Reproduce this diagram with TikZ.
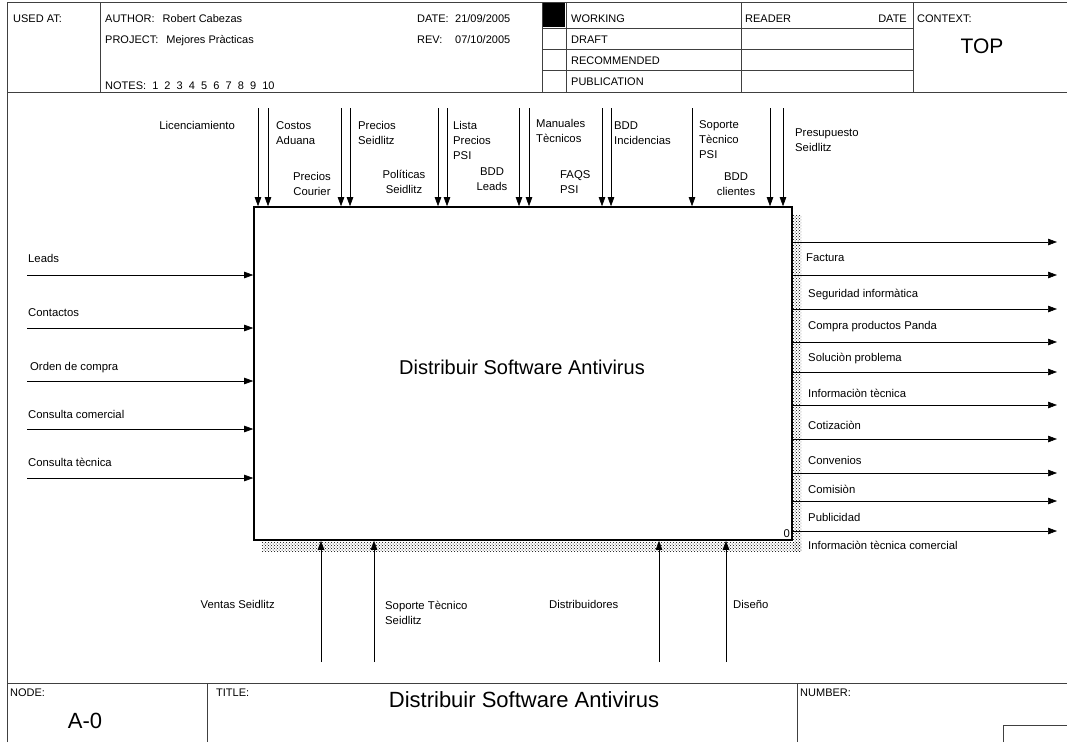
\documentclass[tikz,border=0pt]{standalone}
\usepackage{fontspec}
\setmainfont{Liberation Sans}
\usetikzlibrary{calc, positioning}
\usetikzlibrary{arrows.meta}
\usetikzlibrary{patterns}

\tikzset{
  frame/.style={line width=0.9pt, black!75},
  flow/.style={line width=0.6pt, -{Triangle[length=9pt,width=6.5pt]}},
  lbl/.style={inner sep=0pt, font=\fontsize{11.3}{15}\selectfont},
  hdr/.style={inner sep=0pt, font=\fontsize{11}{13}\selectfont, anchor=base west},
  hatch/.style={pattern=crosshatch dots, pattern color=black},
}

\begin{document}
\begin{tikzpicture}[x=1pt, y=-1pt]
\useasboundingbox (0,0) rectangle (1067,742);

% form
\draw[frame] (7,742) -- (7,2) -- (1067,2);
\draw[frame] (7,92) -- (1067,92);
\draw[frame] (7,683) -- (1067,683);
\draw[frame] (100,2) -- (100,92);
\draw[frame] (542,2) -- (542,92);
\draw[frame] (566,2) -- (566,92);
\draw[frame] (741,2) -- (741,92);
\draw[frame] (913,2) -- (913,92);
\draw[frame] (542,28) -- (913,28);
\draw[frame] (542,49) -- (913,49);
\draw[frame] (542,70) -- (913,70);
\fill (543,3) rectangle (565,27);
\draw[frame] (207,683) -- (207,742);
\draw[frame] (797,683) -- (797,742);
\draw[frame] (1003,742) -- (1003,725) -- (1067,725);

\node[hdr] (usedat) at (13,22) {USED AT:};
\node[hdr] (author) at (105,22) {AUTHOR:\hspace{8pt}Robert Cabezas};
\node[hdr] (project) at (105,43) {PROJECT:\hspace{8pt}Mejores Pràcticas};
\node[hdr] (notes) at (105,89) {NOTES:\ \ 1\ \ 2\ \ 3\ \ 4\ \ 5\ \ 6\ \ 7\ \ 8\ \ 9\ \ 10};
\node[hdr] (date) at (417,22) {DATE:};
\node[hdr] (dateval) at (455,22) {21/09/2005};
\node[hdr] (rev) at (417,43) {REV:};
\node[hdr] (revval) at (455,43) {07/10/2005};
\node[hdr] (working) at (571,22) {WORKING};
\node[hdr] (draft) at (571,43) {DRAFT};
\node[hdr] (recommended) at (571,64) {RECOMMENDED};
\node[hdr] (publication) at (571,85) {PUBLICATION};
\node[hdr] (reader) at (745,22) {READER};
\node[hdr, anchor=base east] (readerdate) at (907,22) {DATE};
\node[hdr] (context) at (917,22) {CONTEXT:};
\node[inner sep=0pt, font=\fontsize{21}{24}\selectfont] (top) at (982,46) {TOP};

\node[hdr] (nodelbl) at (10,696) {NODE:};
\node[hdr] (titlelbl) at (216,696) {TITLE:};
\node[hdr] (numberlbl) at (800,696) {NUMBER:};
\node[inner sep=0pt, font=\fontsize{22}{26}\selectfont] (nodeval) at (85,721) {A-0};
\node[inner sep=0pt, font=\fontsize{22}{26}\selectfont] (titleval) at (524,700) {Distribuir Software Antivirus};

% activity box
\fill[hatch] (793,215) rectangle (801,551);
\fill[hatch] (262,542) rectangle (801,551);
\node[draw, line width=1.6pt, fill=white, minimum width=538pt, minimum height=333pt, inner sep=0pt] (box) at (523,373.5) {};
\node[inner sep=0pt, font=\fontsize{20}{24}\selectfont] (boxtitle) at (522,367) {Distribuir Software Antivirus};
\node[lbl, anchor=base east] (boxnum) at (790,537) {0};

% controls
\coordinate (c1) at (258,108);
\coordinate (c2) at (268,108);
\coordinate (c3) at (341,108);
\coordinate (c4) at (350,108);
\coordinate (c5) at (438,108);
\coordinate (c6) at (447,108);
\coordinate (c7) at (519,108);
\coordinate (c8) at (529,108);
\coordinate (c9) at (602,108);
\coordinate (c10) at (611,108);
\coordinate (c11) at (692,108);
\coordinate (c12) at (770,108);
\coordinate (c13) at (783,108);
\draw[flow] (c1) -- (c1 |- box.north);
\draw[flow] (c2) -- (c2 |- box.north);
\draw[flow] (c3) -- (c3 |- box.north);
\draw[flow] (c4) -- (c4 |- box.north);
\draw[flow] (c5) -- (c5 |- box.north);
\draw[flow] (c6) -- (c6 |- box.north);
\draw[flow] (c7) -- (c7 |- box.north);
\draw[flow] (c8) -- (c8 |- box.north);
\draw[flow] (c9) -- (c9 |- box.north);
\draw[flow] (c10) -- (c10 |- box.north);
\draw[flow] (c11) -- (c11 |- box.north);
\draw[flow] (c12) -- (c12 |- box.north);
\draw[flow] (c13) -- (c13 |- box.north);

\node[lbl, anchor=base east] (licencias) at (235,129) {Licenciamiento};
\node[lbl, anchor=north west, align=left] (aduana) at (276,121) {Costos\\Aduana};
\node[lbl, anchor=north, align=center] (courier) at (312,172) {Precios\\Courier};
\node[lbl, anchor=north west, align=left] (preciosseid) at (358,121) {Precios\\Seidlitz};
\node[lbl, anchor=north, align=center] (politicas) at (404,170) {Políticas\\Seidlitz};
\node[lbl, anchor=north west, align=left] (listapsi) at (453,121) {Lista\\Precios\\PSI};
\node[lbl, anchor=north, align=center] (bddleads) at (492,168) {BDD\\Leads};
\node[lbl, anchor=north west, align=left] (manuales) at (536,119) {Manuales\\Tècnicos};
\node[lbl, anchor=north west, align=left] (faqs) at (560,170) {FAQS\\PSI};
\node[lbl, anchor=north west, align=left] (bddinc) at (614,122) {BDD\\Incidencias};
\node[lbl, anchor=north west, align=left] (soportepsi) at (699,120) {Soporte\\Tècnico\\PSI};
\node[lbl, anchor=north, align=center] (bddcli) at (736,173) {BDD\\clientes};
\node[lbl, anchor=north west, align=left] (presupuesto) at (795,129) {Presupuesto\\Seidlitz};

% inputs
\coordinate (i1) at (27,275);
\coordinate (i2) at (27,328);
\coordinate (i3) at (27,381);
\coordinate (i4) at (27,429);
\coordinate (i5) at (27,478);
\draw[flow] (i1) -- (i1 -| box.west);
\draw[flow] (i2) -- (i2 -| box.west);
\draw[flow] (i3) -- (i3 -| box.west);
\draw[flow] (i4) -- (i4 -| box.west);
\draw[flow] (i5) -- (i5 -| box.west);

\node[lbl, anchor=base west] (leads) at (28,262) {Leads};
\node[lbl, anchor=base west] (contactos) at (28,316) {Contactos};
\node[lbl, anchor=base west] (orden) at (30,370) {Orden de compra};
\node[lbl, anchor=base west] (comercial) at (28,418) {Consulta comercial};
\node[lbl, anchor=base west] (tecnica) at (28,466) {Consulta tècnica};

% outputs
\coordinate (o1) at (1057,242);
\coordinate (o2) at (1057,275);
\coordinate (o3) at (1057,309);
\coordinate (o4) at (1057,342);
\coordinate (o5) at (1057,372);
\coordinate (o6) at (1057,405);
\coordinate (o7) at (1057,439);
\coordinate (o8) at (1057,473);
\coordinate (o9) at (1057,501);
\coordinate (o10) at (1057,531);
\draw[flow] (o1 -| box.east) -- (o1);
\draw[flow] (o2 -| box.east) -- (o2);
\draw[flow] (o3 -| box.east) -- (o3);
\draw[flow] (o4 -| box.east) -- (o4);
\draw[flow] (o5 -| box.east) -- (o5);
\draw[flow] (o6 -| box.east) -- (o6);
\draw[flow] (o7 -| box.east) -- (o7);
\draw[flow] (o8 -| box.east) -- (o8);
\draw[flow] (o9 -| box.east) -- (o9);
\draw[flow] (o10 -| box.east) -- (o10);

\node[lbl, anchor=base west] (factura) at (806,261) {Factura};
\node[lbl, anchor=base west] (seguridad) at (808,297) {Seguridad informàtica};
\node[lbl, anchor=base west] (compra) at (808,329) {Compra productos Panda};
\node[lbl, anchor=base west] (solucion) at (808,361) {Soluciòn problema};
\node[lbl, anchor=base west] (infotec) at (808,397) {Informaciòn tècnica};
\node[lbl, anchor=base west] (cotizacion) at (808,429) {Cotizaciòn};
\node[lbl, anchor=base west] (convenios) at (808,464) {Convenios};
\node[lbl, anchor=base west] (comision) at (808,493) {Comisiòn};
\node[lbl, anchor=base west] (publicidad) at (808,521) {Publicidad};
\node[lbl, anchor=base west] (infocom) at (808,549) {Informaciòn tècnica comercial};

% mechanisms
\coordinate (m1) at (321,662);
\coordinate (m2) at (374,662);
\coordinate (m3) at (659,662);
\coordinate (m4) at (726,662);
\draw[flow] (m1) -- (m1 |- box.south);
\draw[flow] (m2) -- (m2 |- box.south);
\draw[flow] (m3) -- (m3 |- box.south);
\draw[flow] (m4) -- (m4 |- box.south);

\node[lbl, anchor=base east] (ventas) at (275,608) {Ventas Seidlitz};
\node[lbl, anchor=north west, align=left] (soporteseid) at (385,601) {Soporte Tècnico\\Seidlitz};
\node[lbl, anchor=base west] (distrib) at (549,608) {Distribuidores};
\node[lbl, anchor=base west] (diseno) at (733,608) {Diseño};
\end{tikzpicture}
\end{document}
